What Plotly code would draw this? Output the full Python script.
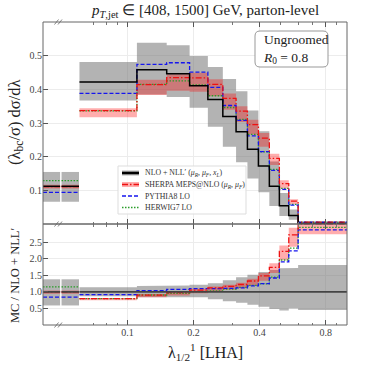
import numpy as np
import plotly.graph_objects as go

# lambda_{1/2}^1 (LHA) bin edges of the main (log) region
edges = [0.0605, 0.1105, 0.151, 0.192, 0.2325, 0.272, 0.3125, 0.352, 0.395, 0.443, 0.492, 0.543, 0.599, 1.0]

# NLO + NLL' and its relative uncertainty
nll = [0.422, 0.458, 0.446, 0.411, 0.370, 0.319, 0.274, 0.222, 0.172, 0.112, 0.054, 0.025, 0.0018]
nll_lo = [0.87, 0.84, 0.845, 0.84, 0.78, 0.72, 0.67, 0.61, 0.55, 0.48, 0.44, 0.50, 0.45]
nll_hi = [1.14, 1.175, 1.19, 1.215, 1.26, 1.35, 1.44, 1.52, 1.60, 1.66, 1.71, 1.72, 1.81]

# Sherpa MEPS@NLO and its relative scale band
sherpa = [0.337, 0.414, 0.435, 0.434, 0.415, 0.373, 0.335, 0.295, 0.255, 0.195, 0.12, 0.068, 0.00548]
sherpa_lo = [0.94, 0.925, 0.91, 0.905, 0.915, 0.91, 0.905, 0.9, 0.9, 0.9, 0.88, 0.87, 0.9]
sherpa_hi = [1.02, 1.035, 1.023, 1.035, 1.036, 1.04, 1.045, 1.05, 1.06, 1.07, 1.08, 1.08, 1.02]

pythia = [0.388, 0.474, 0.479, 0.451, 0.406, 0.352, 0.308, 0.262, 0.215, 0.159, 0.103, 0.056, 0.00517]
herwig = [0.336, 0.415, 0.425, 0.413, 0.381, 0.346, 0.311, 0.266, 0.214, 0.162, 0.106, 0.058, 0.00531]

# the two underflow bins on the left of the axis break
uf_nll = [0.112, 0.112]
uf_nll_lo = [0.59, 0.59]
uf_nll_hi = [1.38, 1.38]
uf_sherpa = [0.111, 0.111]
uf_sherpa_lo = [0.95, 0.95]
uf_sherpa_hi = [1.05, 1.05]
uf_pythia = [0.094, 0.094]
uf_herwig = [0.129, 0.129]

GRAY = "rgba(110,110,110,0.52)"
PINK = "rgba(255,0,0,0.32)"
RED = "#ee1111"
BLUE = "#1515ee"
GREEN = "#2a9d2a"
FONT = "Liberation Serif"

L, R, T, B = 43, 19, 22, 41
W = H = 366
PW, PH = W - L - R, H - T - B
split = 1 / 3
uf_frac = 36 / PW


def px(x):
    return (x - L) / PW


def py(y):
    return (H - B - y) / PH


def step(e, v):
    return list(e), list(v) + [v[-1]]


def band(e, lo, hi):
    xs, ys = [], []
    for i in range(len(lo)):
        xs += [e[i], e[i + 1]]
        ys += [hi[i], hi[i]]
    for i in reversed(range(len(lo))):
        xs += [e[i + 1], e[i]]
        ys += [lo[i], lo[i]]
    return xs, ys


fig = go.Figure()

nll_a = np.array(nll)
lines = [
    (herwig, GREEN, "1.5px,1.5px", 1.3),
    (pythia, BLUE, "4px,2px", 1.3),
    (sherpa, RED, "6px,2px,1.5px,2px", 1.3),
    (nll, "black", "solid", 1.5),
]


def add_panel(xa, ya, ratio):
    norm = nll_a if ratio else np.ones(len(nll))
    lo = nll_a * np.array(nll_lo) / norm
    hi = nll_a * np.array(nll_hi) / norm
    bx, by = band(edges, lo, hi)
    fig.add_trace(go.Scatter(x=bx, y=by, mode="lines", fill="toself", fillcolor=GRAY, line=dict(width=0),
                             xaxis=xa, yaxis=ya, hoverinfo="skip", showlegend=False))
    s = np.array(sherpa)
    bx, by = band(edges, s * np.array(sherpa_lo) / norm, s * np.array(sherpa_hi) / norm)
    fig.add_trace(go.Scatter(x=bx, y=by, mode="lines", fill="toself", fillcolor=PINK, line=dict(width=0),
                             xaxis=xa, yaxis=ya, hoverinfo="skip", showlegend=False))
    for vals, col, dash, w in lines:
        xs, ys = step(edges, list(np.array(vals) / norm))
        if ratio and vals is nll:
            col, w = "#444", 1.8
        fig.add_trace(go.Scatter(x=xs, y=ys, mode="lines", line=dict(color=col, dash=dash, width=w, shape="hv"),
                                 xaxis=xa, yaxis=ya, showlegend=False))


def add_underflow(xa, ya, ratio):
    uf_pos = [(0.0, 0.95), (1.03, 2.0)]
    for i, (a, b) in enumerate(uf_pos):
        norm = uf_nll[i] if ratio else 1.0
        c = uf_nll[i] / norm
        fig.add_trace(go.Scatter(x=[a, b, b, a, a], y=[c * uf_nll_lo[i]] * 2 + [c * uf_nll_hi[i]] * 2 + [c * uf_nll_lo[i]],
                                 mode="lines", fill="toself", fillcolor=GRAY, line=dict(width=0), xaxis=xa, yaxis=ya,
                                 hoverinfo="skip", showlegend=False))
        s = uf_sherpa[i] / norm
        fig.add_trace(go.Scatter(x=[a, b, b, a, a], y=[s * uf_sherpa_lo[i]] * 2 + [s * uf_sherpa_hi[i]] * 2 + [s * uf_sherpa_lo[i]],
                                 mode="lines", fill="toself", fillcolor=PINK, line=dict(width=0), xaxis=xa, yaxis=ya,
                                 hoverinfo="skip", showlegend=False))
        for vals, col, dash, w in [(uf_herwig, GREEN, "1.5px,1.5px", 1.3), (uf_pythia, BLUE, "4px,2px", 1.3),
                                   (uf_sherpa, RED, "6px,2px,1.5px,2px", 1.3), (uf_nll, "black", "solid", 1.5)]:
            v = vals[i] / norm
            if ratio and vals is uf_nll:
                col, w = "#444", 1.8
            fig.add_trace(go.Scatter(x=[a, b], y=[v, v], mode="lines", line=dict(color=col, dash=dash, width=w),
                                     xaxis=xa, yaxis=ya, showlegend=False))


add_panel("x4", "y2", False)
add_panel("x2", "y", True)
add_underflow("x3", "y2", False)
add_underflow("x", "y", True)

tickfont = dict(family=FONT, size=10, color="#444")
major = [0.1, 0.2, 0.4, 0.8]
minor_vals = [0.06, 0.07, 0.08, 0.09, 0.3, 0.5, 0.6, 0.7, 0.9]
logx = dict(type="log", range=[np.log10(0.0602), 0.0], tickvals=major, ticktext=["0.1", "0.2", "0.4", "0.8"],
            ticks="inside", ticklen=5, tickcolor="#555", mirror="ticks", showline=False, zeroline=False,
            showgrid=True, gridcolor="#ececec", gridwidth=0.8, tickfont=tickfont,
            minor=dict(tickvals=minor_vals, ticks="inside", ticklen=2.5, tickcolor="#777", showgrid=False))
ufx = dict(range=[0, 2], showticklabels=False, ticks="", showgrid=False, zeroline=False, showline=False)
yax = dict(ticks="inside", ticklen=5, tickcolor="#555", showline=False, zeroline=False, showgrid=True,
           gridcolor="#ececec", gridwidth=0.8, tickfont=tickfont)

fig.update_layout(
    width=W, height=H, margin=dict(l=L, r=R, t=T, b=B, pad=0),
    plot_bgcolor="white", paper_bgcolor="white", showlegend=False,
    xaxis=dict(domain=[0, uf_frac], anchor="y", **ufx),
    xaxis2=dict(domain=[uf_frac, 1], anchor="y", **logx),
    xaxis3=dict(domain=[0, uf_frac], anchor="y2", matches="x", **ufx),
    xaxis4=dict(domain=[uf_frac, 1], anchor="y2", matches="x2", **{**logx, "showticklabels": False}),
    yaxis=dict(domain=[0, split], anchor="x", range=[0, 3.05], tickvals=[0.5, 1.0, 1.5, 2.0, 2.5],
               ticktext=["0.5", "1.0", "1.5", "2.0", "2.5"], **yax),
    yaxis2=dict(domain=[split, 1], anchor="x3", range=[0, 0.6], tickvals=[0.1, 0.2, 0.3, 0.4, 0.5], **yax),
    yaxis3=dict(domain=[0, split], anchor="x2", overlaying="y", side="right", range=[0, 3.05],
                tickvals=[0.5, 1.0, 1.5, 2.0, 2.5], showticklabels=False, ticks="inside", ticklen=5,
                tickcolor="#555", showgrid=False, zeroline=False),
    yaxis4=dict(domain=[split, 1], anchor="x4", overlaying="y2", side="right", range=[0, 0.6],
                tickvals=[0.1, 0.2, 0.3, 0.4, 0.5], showticklabels=False, ticks="inside", ticklen=5,
                tickcolor="#555", showgrid=False, zeroline=False),
)

shapes = [
    dict(type="rect", xref="paper", yref="paper", x0=0, x1=1, y0=split, y1=1, line=dict(color="#666", width=1)),
    dict(type="rect", xref="paper", yref="paper", x0=0, x1=1, y0=0, y1=split, line=dict(color="#666", width=1)),
]
# axis-break marks
for yb in [22, 224, 325]:
    for xb in [56.5, 60]:
        shapes.append(dict(type="line", xref="paper", yref="paper", x0=px(xb - 2), x1=px(xb + 2),
                           y0=py(yb + 2.5), y1=py(yb - 2.5), line=dict(color="#666", width=0.8)))

# "Ungroomed" box with rounded corners
bx0, bx1, by0, by1, r = px(255), px(328), py(67), py(31), 5
rx, ry = r / PW, r / PH
shapes.append(dict(
    type="path", xref="paper", yref="paper", line=dict(color="#999", width=1), fillcolor="white",
    path=(f"M {bx0+rx},{by0} L {bx1-rx},{by0} Q {bx1},{by0} {bx1},{by0+ry} L {bx1},{by1-ry} "
          f"Q {bx1},{by1} {bx1-rx},{by1} L {bx0+rx},{by1} Q {bx0},{by1} {bx0},{by1-ry} "
          f"L {bx0},{by0+ry} Q {bx0},{by0} {bx0+rx},{by0} Z")))

# legend drawn by hand
shapes.append(dict(type="rect", xref="paper", yref="paper", x0=px(118), x1=px(246), y0=py(214), y1=py(166),
                   line=dict(color="#dddddd", width=1), fillcolor="rgba(255,255,255,0.85)"))
legend_rows = [
    ("NLO + NLL′ (<i>μ<sub>R</sub>, μ<sub>F</sub>, x<sub>L</sub></i>)", "black", "solid", 2.5, GRAY),
    ("SHERPA MEPS@NLO (<i>μ<sub>R</sub>, μ<sub>F</sub></i>)", RED, "6px,2px,1.5px,2px", 1.5, PINK),
    ("PYTHIA8 LO", BLUE, "4px,2px", 1.3, None),
    ("HERWIG7 LO", GREEN, "1.5px,1.5px", 1.3, None),
]
annotations = []
for k, (txt, col, dash, w, fillc) in enumerate(legend_rows):
    yr = 173 + k * 11.5
    if fillc:
        shapes.append(dict(type="rect", xref="paper", yref="paper", x0=px(122), x1=px(139),
                           y0=py(yr + 2.5), y1=py(yr - 2.5), fillcolor=fillc, line=dict(width=0)))
    shapes.append(dict(type="line", xref="paper", yref="paper", x0=px(122), x1=px(139), y0=py(yr), y1=py(yr),
                       line=dict(color=col, dash=dash, width=w)))
    annotations.append(dict(text=txt, xref="paper", yref="paper", x=px(143), y=py(yr), xanchor="left",
                            yanchor="middle", showarrow=False, font=dict(family=FONT, size=7.8, color="#333")))

annotations += [
    dict(text="Ungroomed<br><i>R</i><sub>0</sub> = 0.8", xref="paper", yref="paper", x=px(261), y=py(49),
         xanchor="left", yanchor="middle", align="left", showarrow=False,
         font=dict(family=FONT, size=13.5, color="#222")),
    dict(text="<i>p</i><sub><i>T</i>,jet</sub> ∈ [408, 1500] GeV, parton-level", xref="paper", yref="paper",
         x=px(205), y=py(11), xanchor="center", yanchor="middle", showarrow=False,
         font=dict(family=FONT, size=15, color="#222")),
    dict(text="λ<sub>1/2</sub><sup>1</sup> [LHA]", xref="paper", yref="paper", x=px(205), y=py(352),
         xanchor="center", yanchor="middle", showarrow=False, font=dict(family=FONT, size=16, color="#222")),
    dict(text="(λ<sub>bc</sub>/σ) dσ/dλ", xref="paper", yref="paper", x=px(15), y=py(123), textangle=-90,
         xanchor="center", yanchor="middle", showarrow=False, font=dict(family=FONT, size=16.5, color="#222")),
    dict(text="MC / NLO + NLL′", xref="paper", yref="paper", x=px(15), y=py(276), textangle=-90,
         xanchor="center", yanchor="middle", showarrow=False, font=dict(family=FONT, size=12.5, color="#222")),
]
fig.update_layout(shapes=shapes, annotations=annotations)

fig.write_html("out.html", config={"displayModeBar": False},
               post_script="document.body.style.margin='0';")
